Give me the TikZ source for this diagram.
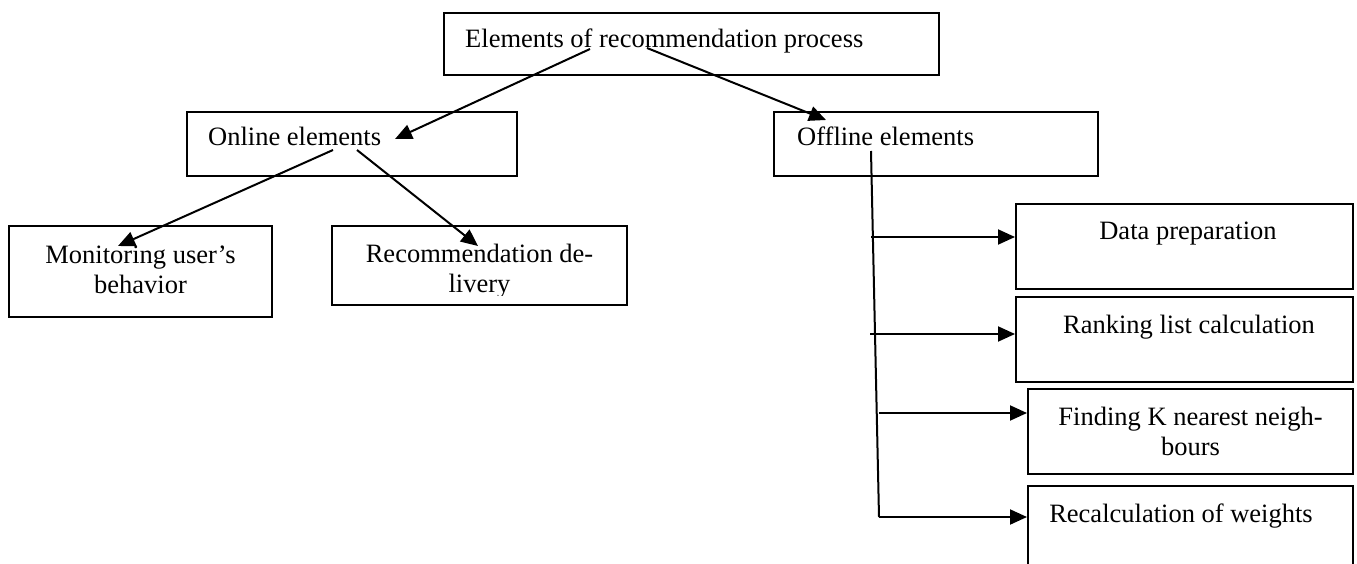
\documentclass[tikz,border=0pt]{standalone}
\usepackage{fontspec}
\setmainfont{Liberation Serif}
\usetikzlibrary{arrows.meta}
\begin{document}
\begin{tikzpicture}[x=1pt,y=-1pt,
  box/.style={draw, line width=2pt, inner sep=0pt},
  lbl/.style={inner sep=0pt, font=\fontsize{26.5}{30}\selectfont},
  arr/.style={line width=2pt, -{Triangle[length=17pt,width=15pt]}},
  wire/.style={line width=2pt}]
\useasboundingbox (0,0) rectangle (1357,564);

% frames
\node[box, minimum width=495pt, minimum height=62pt] (root)     at (691.5,44)    {};
\node[box, minimum width=330pt, minimum height=64pt] (online)   at (352,144)     {};
\node[box, minimum width=324pt, minimum height=64pt] (offline)  at (936,144)     {};
\node[box, minimum width=263pt, minimum height=91pt] (monitor)  at (140.5,271.5) {};
\node[box, minimum width=295pt, minimum height=79pt] (recdel)   at (479.5,265.5) {};
\node[box, minimum width=337pt, minimum height=85pt] (dataprep) at (1184.5,246.5) {};
\node[box, minimum width=337pt, minimum height=85pt] (ranking)  at (1184.5,339.5) {};
\node[box, minimum width=325pt, minimum height=85pt] (findk)    at (1190.5,431.5) {};
\node[box, minimum width=325pt, minimum height=85pt] (recalc)   at (1190.5,528.5) {};

% labels (two-line labels are placed by the baseline of their last line)
\node[lbl, anchor=base west] (troot)    at (465,48)  {Elements of recommendation process};
\node[lbl, anchor=base west] (tonline)  at (208,146) {Online elements};
\node[lbl, anchor=base west] (toffline) at (797,146) {Offline elements};
\node[lbl, anchor=base, align=center] (tmonitor) at (140.5,293) {Monitoring user’s\\behavior};
\begin{scope}
  \clip (332,226) rectangle (627,295);
  \node[lbl, anchor=base, align=center] (trecdel) at (479.5,292) {Recommendation de-\\livery};
\end{scope}
\node[lbl, anchor=base] (tdataprep) at (1188,240) {Data preparation};
\node[lbl, anchor=base] (tranking)  at (1189,333) {Ranking list calculation};
\node[lbl, anchor=base, align=center] (tfindk) at (1190.5,455) {Finding K nearest neigh-\\bours};
\node[lbl, anchor=base] (trecalc)   at (1181,522) {Recalculation of weights};

% connector end points
\coordinate (c1s) at (590,49);  \coordinate (c1e) at (395,139);
\coordinate (c2s) at (647,48);  \coordinate (c2e) at (826,120);
\coordinate (c3s) at (333,150); \coordinate (c3e) at (118,246);
\coordinate (c4s) at (357,150); \coordinate (c4e) at (478,246);
\coordinate (v0) at (871,151);
\coordinate (v4) at (879,517);
\coordinate (b1) at (871,237);
\coordinate (b2) at (870,334);
\coordinate (b3) at (879,413);

% tree connectors
\draw[arr] (c1s) -- (c1e);
\draw[arr] (c2s) -- (c2e);
\draw[arr] (c3s) -- (c3e);
\draw[arr] (c4s) -- (c4e);

% offline branch
\draw[wire] (v0) -- (v4);
\draw[arr] (b1) -- (b1 -| dataprep.west);
\draw[arr] (b2) -- (b2 -| ranking.west);
\draw[arr] (b3) -- (b3 -| findk.west);
\draw[arr] (v4) -- (v4 -| recalc.west);
\end{tikzpicture}
\end{document}
